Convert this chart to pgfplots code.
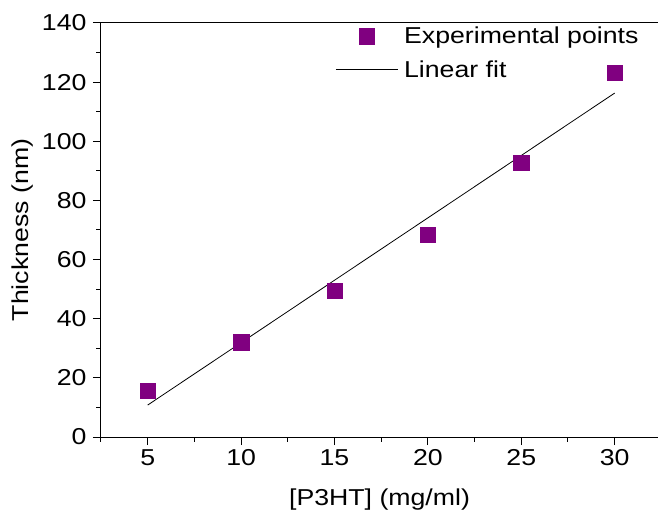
\documentclass[border=0pt]{standalone}
\usepackage{fontspec}
\setmainfont{Liberation Sans}[FakeStretch=1.16]
\usepackage{pgfplots}
\pgfplotsset{compat=1.18}
\definecolor{mpurple}{RGB}{128,0,128}
\pgfplotsset{
  marklegend/.style={legend image code/.code={\draw[mark repeat=2,mark phase=2,##1] plot coordinates {(0pt,0pt)(31pt,0pt)(62pt,0pt)};}},
  linelegend/.style={legend image code/.code={\draw[##1] (0pt,0pt) -- (62pt,0pt);}},
}
\begin{document}
\begin{tikzpicture}
\begin{axis}[
  scale only axis,
  width=557pt, height=414pt,
  xmin=2.5, xmax=32.32, ymin=0, ymax=140,
  axis x line*=box, axis y line*=left,
  xtick={5,10,...,30}, minor xtick={2.5,7.5,...,30},
  ytick={0,20,...,140}, minor ytick={10,30,...,130},
  xtick pos=left, ytick pos=left,
  tick align=outside,
  major tick length=8pt, minor tick length=4.5pt,
  every tick/.style={black, line width=1pt},
  axis line style={line width=1pt},
  /pgf/number format/assume math mode=true,
  tick label style={font=\fontsize{23}{27}\selectfont},
  label style={font=\fontsize{23}{27}\selectfont},
  xticklabel style={yshift=-1pt},
  yticklabel style={xshift=-3pt},
  xlabel={[P3HT] (mg/ml)},
  ylabel={Thickness (nm)},
  xlabel style={yshift=-16pt},
  ylabel style={yshift=2pt},
  legend style={at={(0.415,1.0)}, anchor=north west, draw=none, fill=none,
    font=\fontsize{23}{27}\selectfont, row sep=11pt,
    nodes={inner xsep=6pt}},
  legend cell align=left,
]
\coordinate (sw) at (rel axis cs:0,0);
\addplot[only marks, mark=square*, mark size=7.7pt, color=mpurple, fill=mpurple, marklegend]
  coordinates {(5,15.6) (10,32.0) (15,49.5) (20,68.5) (25,92.7) (30,123.1)};
\addlegendentry{Experimental points}
\addplot[black, line width=0.8pt, linelegend]
  coordinates {(5,10.8) (30,116.3)};
\addlegendentry{Linear fit}
\end{axis}
\pgfresetboundingbox
\path (sw) ++(-101pt,-82pt) rectangle ++(660pt,519pt);
\end{tikzpicture}
\end{document}
